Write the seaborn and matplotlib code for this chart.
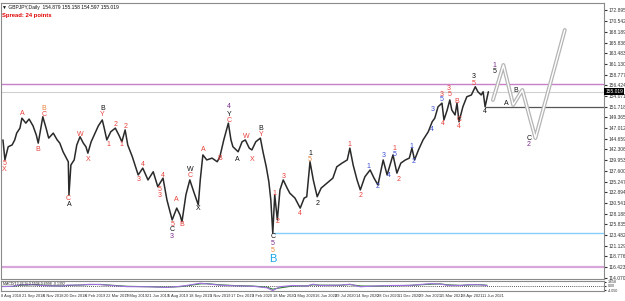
import numpy as np
import pandas as pd
import seaborn as sns
import matplotlib.pyplot as plt
from matplotlib.transforms import blended_transform_factory

# GBPJPY daily, bar index counted from 8 Aug 2018
bar = [3, 6, 11, 17, 21, 24, 29, 32, 38, 43, 49, 54, 57, 61, 64, 69, 73, 80, 86, 90,
       95, 100, 103, 104, 107, 112, 116, 121, 126, 130, 133, 138, 144, 149, 155, 158,
       162, 168, 175, 181, 185, 190, 194, 201, 205, 210, 217, 225, 233, 240, 248, 254,
       262, 269, 274, 277, 283, 289, 295, 302, 305, 309, 315, 323, 331, 335, 341, 348,
       352, 355, 363, 369, 374, 380, 384, 390, 397, 401, 406, 410, 413, 416, 419, 423,
       427, 432, 438, 442, 450, 458, 464, 468, 473, 478, 484, 490, 499, 508, 514, 522,
       530, 534, 539, 545, 550, 557, 565, 571, 577, 585, 591, 600, 606, 612, 619, 625,
       629, 633, 639, 646, 654, 660, 664, 669, 675, 678, 683, 687, 690, 695, 698, 701,
       707, 713, 720, 726, 730, 735, 738, 741, 746]
close = [144.4, 140.0, 142.9, 143.3, 144.4, 145.9, 147.0, 149.2, 148.1, 149.0, 147.5,
         145.5, 143.7, 147.0, 149.5, 147.0, 144.8, 145.9, 144.4, 143.7, 141.8, 140.4,
         139.6, 132.3, 138.9, 140.0, 143.3, 145.1, 143.7, 142.9, 141.5, 144.0, 145.9,
         147.5, 148.8, 147.0, 144.4, 146.2, 147.0, 145.3, 144.0, 146.6, 143.3, 140.7,
         138.9, 136.7, 138.2, 135.6, 137.4, 134.1, 136.0, 131.2, 126.8, 129.4, 127.9,
         126.4, 132.3, 135.6, 133.0, 130.1, 135.6, 141.1, 140.0, 140.4, 139.6, 140.7,
         144.4, 148.1, 144.4, 142.9, 141.8, 144.0, 144.4, 142.6, 142.2, 144.0, 144.8,
         141.8, 138.5, 135.2, 131.2, 123.9, 132.3, 126.8, 133.4, 135.6, 133.8, 132.7,
         131.6, 129.4, 131.6, 131.9, 139.6, 135.6, 131.9, 133.8, 134.9, 136.0, 138.5,
         139.3, 140.0, 142.6, 138.9, 135.6, 133.4, 136.3, 137.8, 136.0, 134.5, 140.0,
         136.7, 141.1, 137.1, 139.3, 140.0, 140.4, 142.6, 140.0, 142.2, 144.4, 146.2,
         148.4, 149.2, 151.7, 152.5, 148.8, 151.0, 153.2, 151.0, 149.9, 152.5, 148.4,
         151.7, 153.9, 154.3, 156.1, 155.0, 154.3, 155.0, 151.7, 155.0]

# projected path
proj_bar = [753, 769, 784, 798, 818, 863]
proj_price = [153.2, 160.9, 152.1, 155.4, 144.8, 168.6]

# wave labels: text, bar, price, colour
waves = [
    ("5", 5, 139.3, "red"), ("X", 5, 137.8, "red"), ("A", 32, 150.3, "red"),
    ("B", 66, 151.4, "orange"), ("C", 66, 150.1, "red"), ("B", 57, 142.2, "red"),
    ("C", 103, 131.6, "red"), ("A", 104, 130.1, "black"), ("W", 121, 145.5, "red"),
    ("X", 133, 140.0, "red"), ("B", 155, 151.4, "black"), ("Y", 155, 150.1, "red"),
    ("1", 164, 143.3, "red"), ("2", 175, 147.7, "red"), ("1", 185, 143.3, "red"),
    ("2", 190, 147.3, "red"), ("3", 210, 135.6, "red"), ("4", 217, 138.9, "red"),
    ("4", 248, 136.5, "red"), ("5", 243, 133.4, "red"), ("3", 243, 132.1, "red"),
    ("5", 262, 125.9, "red"), ("C", 262, 124.6, "black"), ("3", 262, 123.1, "purple"),
    ("A", 269, 131.2, "red"), ("B", 277, 125.7, "red"), ("W", 289, 137.8, "black"),
    ("C", 289, 136.5, "red"), ("X", 302, 129.4, "black"), ("A", 309, 142.2, "red"),
    ("B", 335, 140.4, "red"), ("4", 349, 151.7, "purple"), ("Y", 349, 150.1, "black"),
    ("C", 349, 148.6, "red"), ("A", 361, 140.0, "black"), ("W", 375, 145.1, "red"),
    ("X", 384, 140.0, "red"), ("B", 398, 147.0, "black"), ("Y", 398, 145.7, "red"),
    ("1", 418, 132.7, "red"), ("2", 423, 126.4, "red"), ("3", 432, 136.3, "red"),
    ("4", 458, 128.3, "red"), ("C", 416, 123.1, "black"), ("5", 416, 121.7, "purple"),
    ("5", 416, 120.0, "orange"), ("1", 473, 141.5, "black"), ("5", 473, 140.2, "orange"),
    ("2", 484, 130.5, "black"), ("1", 534, 143.5, "red"), ("2", 550, 132.1, "red"),
    ("1", 563, 138.5, "blue"), ("2", 577, 134.1, "blue"), ("3", 585, 140.9, "blue"),
    ("4", 593, 136.5, "blue"), ("5", 602, 141.1, "blue"), ("1", 602, 142.6, "red"),
    ("2", 608, 135.8, "red"), ("1", 628, 142.9, "blue"), ("2", 631, 139.6, "blue"),
    ("3", 660, 151.2, "blue"), ("4", 660, 146.8, "blue"), ("3", 674, 154.5, "red"),
    ("5", 674, 153.2, "blue"), ("4", 677, 148.1, "red"), ("3", 686, 155.8, "red"),
    ("5", 686, 154.5, "red"), ("B", 698, 152.8, "red"), ("C", 701, 148.8, "red"),
    ("4", 701, 147.3, "red"), ("3", 724, 158.3, "black"), ("5", 724, 156.9, "red"),
    ("4", 741, 150.6, "black"), ("1", 756, 160.7, "purple"), ("5", 756, 159.4, "black"),
    ("A", 773, 152.5, "black"), ("B", 788, 155.2, "black"), ("C", 808, 144.8, "black"),
    ("2", 808, 143.3, "purple"),
]
big_label = ("B", 416, 118.2)

# oscillator panel
osc_bar = [0, 18, 29, 49, 67, 95, 101, 121, 136, 152, 167, 193, 228, 254, 274, 285,
           305, 315, 335, 355, 386, 407, 416, 427, 447, 468, 478, 488, 519, 534, 550,
           570, 596, 626, 657, 672, 683, 703, 718, 733, 744]
osc_main = [-0.8, -0.5, 0.8, 0.9, 0.0, -0.3, 0.5, 0.6, 1.2, 1.0, 0.3, -0.8, -0.9, -1.5,
            -0.5, 0.3, 2.2, 1.6, 0.5, 0.0, -0.5, -1.8, -4.2, -0.8, 0.2, -0.3, 1.3, 0.2,
            0.5, 1.3, -0.9, -0.3, 0.2, 0.3, 1.8, 1.5, 0.4, 0.2, 1.0, 0.8, 0.1]
osc_signal = [-0.6, -0.6, 0.4, 0.9, 0.3, -0.2, 0.2, 0.6, 1.0, 1.1, 0.5, -0.5, -0.9, -1.3,
              -0.8, 0.0, 1.6, 1.8, 0.8, 0.2, -0.3, -1.3, -3.0, -1.9, -0.2, -0.1, 0.8, 0.5,
              0.4, 1.0, -0.2, -0.4, 0.0, 0.3, 1.3, 1.6, 0.8, 0.3, 0.7, 0.9, 0.4]

date_labels = ["8 Aug 2018", "21 Sep 2018", "6 Nov 2018", "20 Dec 2018", "6 Feb 2019",
               "22 Mar 2019", "7 May 2019", "21 Jun 2019", "5 Aug 2019", "18 Sep 2019",
               "1 Nov 2019", "17 Dec 2019", "3 Feb 2020", "18 Mar 2020", "1 May 2020",
               "16 Jun 2020", "29 Jul 2020", "14 Sep 2020", "28 Oct 2020", "11 Dec 2020",
               "29 Jan 2021", "15 Mar 2021", "28 Apr 2021", "11 Jun 2021"]

colors = {"red": "#e8403a", "orange": "#e8843a", "black": "#111111",
          "purple": "#7a2a8c", "blue": "#3a4fd0"}

sns.set_style("white")
plt.rcParams['font.family'] = ['Liberation Sans', 'DejaVu Sans']

fig = plt.figure(figsize=(6.25, 3.01), dpi=100)
ax = fig.add_axes([0.0016, 0.0731, 0.9648, 0.917])
ax2 = fig.add_axes([0.0016, 0.0332, 0.9648, 0.0332])

# horizontal levels
ax.axhline(156.7, color="#c77fc7", lw=1.0, zorder=1)
ax.axhline(116.5, color="#d9a6d9", lw=1.6, zorder=1)
ax.axhline(155.0, color="#d0d0d0", lw=0.8, zorder=1)
ax.hlines(151.7, 741, 923, color="#555555", lw=0.9, zorder=1)
ax.hlines(123.9, 416, 923, color="#87cefa", lw=1.0, zorder=1)

sns.lineplot(x=bar, y=close, ax=ax, color="#2a2a2a", lw=1.1, zorder=3)
sns.lineplot(x=proj_bar, y=proj_price, ax=ax, color="#b5b5b5", lw=2.8, zorder=2)
sns.lineplot(x=proj_bar, y=proj_price, ax=ax, color="white", lw=1.0, zorder=2)

for txt, b, p, c in waves:
    ax.text(b, p, txt, color=colors[c], fontsize=5, ha="center", va="center", zorder=4)
ax.text(big_label[1], big_label[2], big_label[0], color="#1aa7e8", fontsize=8,
        ha="center", va="center", zorder=4)

ax.set_xlim(0, 923)
ax.set_ylim(113.8, 174.54)
ax.yaxis.tick_right()
yt = np.round(114.07 + 2.353 * np.arange(26), 3)
ax.set_yticks(yt)
ax.set_yticklabels([f"{v:.3f}" for v in yt])
ax.tick_params(axis="y", labelsize=3.5, length=2, pad=1, colors="#333333")
ax.set_xticks([])
ax.set_xlabel("")
ax.set_ylabel("")
for s in ax.spines.values():
    s.set_color("#8a8a8a")
    s.set_linewidth(0.8)

# current price tag
tr = blended_transform_factory(ax.transAxes, ax.transData)
ax.text(1.002, 155.0, "155.019", transform=tr, fontsize=3.5, color="white",
        va="center", ha="left", bbox=dict(facecolor="black", edgecolor="none", pad=0.6))

# header
fig.text(0.004, 0.985, "\u25bc GBPJPY,Daily  154.879 155.158 154.597 155.019",
         fontsize=3.6, color="#111111", va="top")
fig.text(0.004, 0.958, "Spread: 24 points", fontsize=4.2, color="#e00000",
         va="top", fontweight="bold")

# oscillator
ax2.axhline(0, color="#222222", lw=0.6, ls=(0, (1, 1.5)))
sns.lineplot(x=osc_bar, y=osc_signal, ax=ax2, color="#2f7f2f", lw=0.8)
sns.lineplot(x=osc_bar, y=osc_main, ax=ax2, color="#a070e0", lw=0.8)
ax2.set_xlim(0, 923)
ax2.set_ylim(-4.6, 4.1)
ax2.yaxis.tick_right()
ax2.set_yticks([3.658, 0.0, -4.05])
ax2.set_yticklabels(["3.658", "0.00", "-4.050"])
ax2.tick_params(axis="y", labelsize=2.6, length=1.5, pad=1, colors="#333333")
ax2.set_xticks(np.arange(len(date_labels)) * 32)
ax2.set_xticklabels(date_labels, ha="left")
ax2.tick_params(axis="x", labelsize=2.9, length=1.5, pad=0.5, colors="#333333")
ax2.set_xlabel("")
ax2.set_ylabel("")
ax2.text(0.003, 0.95, "MACD(12,26,9) 0.5506 0.6998 -0.1392", transform=ax2.transAxes,
         fontsize=2.6, color="#222222", va="top")
for s in ax2.spines.values():
    s.set_color("#8a8a8a")
    s.set_linewidth(0.8)

fig.savefig("out.png", dpi=100)
